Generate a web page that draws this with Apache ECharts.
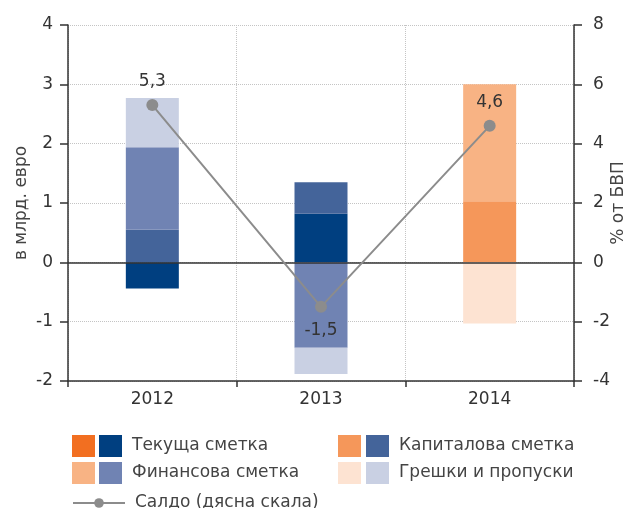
<!DOCTYPE html>
<html>
<head>
<meta charset="utf-8">
<script src="https://cdn.jsdelivr.net/npm/echarts@6/dist/echarts.min.js"></script>
<style>
  html, body { margin: 0; padding: 0; background: #fff; }
  #chart { width: 633px; height: 508px; }
</style>
</head>
<body>
<div id="chart"></div>
<script>
// данни
var years = ['2012', '2013', '2014'];
var currentAcc = [-0.44, 0.82, 0];
var capitalAcc = [0.55, 0.53, 1.03];
var financialAcc = [1.39, -1.44, 1.97];
var errorsAcc = [0.83, -0.44, -1.03];
var balance = [5.3, -1.5, 4.6];
var orangeYears = ['2014'];

var names = ['Текуща сметка', 'Капиталова сметка', 'Финансова сметка', 'Грешки и пропуски'];
var blueColors = ['#003f80', '#44649a', '#7083b3', '#c9d0e3'];
var orangeColors = ['#f26f21', '#f5975a', '#f8b384', '#fde3d2'];
var accounts = [currentAcc, capitalAcc, financialAcc, errorsAcc];
var lineName = 'Салдо (дясна скала)';

var font = '"DejaVu Sans", sans-serif';

function comma(v) {
    return String(v).replace('.', ',');
}

var series = [];
// сини стълбове (2012, 2013)
accounts.forEach(function (vals, k) {
    series.push({
        name: names[k],
        type: 'bar',
        stack: 'a',
        barWidth: 53,
        itemStyle: {color: blueColors[k]},
        data: vals.map(function (v, i) {
            return orangeYears.indexOf(years[i]) >= 0 ? null : v;
        })
    });
});
// оранжеви стълбове (2014)
accounts.forEach(function (vals, k) {
    series.push({
        name: names[k] + ' ',
        type: 'bar',
        stack: 'a',
        barWidth: 53,
        itemStyle: {color: orangeColors[k]},
        data: vals.map(function (v, i) {
            return orangeYears.indexOf(years[i]) >= 0 ? (v === 0 ? null : v) : null;
        })
    });
});
// нулева линия
series[0].markLine = {
    silent: true,
    symbol: ['none', 'none'],
    animation: false,
    label: {show: false},
    lineStyle: {color: '#333', type: 'solid', width: 1.5},
    data: [{yAxis: 0}]
};
// салдо
series.push({
    name: lineName,
    type: 'line',
    yAxisIndex: 1,
    z: 5,
    symbol: 'circle',
    symbolSize: 12,
    itemStyle: {color: '#8c8c8c'},
    lineStyle: {color: '#8c8c8c', width: 2},
    data: balance.map(function (v) {
        return {
            value: v,
            label: {position: v < 0 ? 'bottom' : 'top'}
        };
    }),
    label: {
        show: true,
        distance: 9,
        fontFamily: font,
        fontSize: 17,
        color: '#333',
        formatter: function (p) { return comma(p.value); }
    }
});

var legendText = {fontFamily: font, fontSize: 17, lineHeight: 22, color: '#444', padding: [0, 0, 0, 5]};

var option = {
    animation: false,
    grid: {left: 68, right: 59, top: 25, bottom: 127, outerBoundsMode: 'none', containLabel: false},
    legend: [
        {
            left: 99, top: 435, orient: 'vertical', itemGap: 5, padding: 0,
            itemWidth: 23, itemHeight: 22, icon: 'rect', selectedMode: false,
            textStyle: legendText,
            data: [names[0], names[2]]
        },
        {
            left: 366, top: 435, orient: 'vertical', itemGap: 5, padding: 0,
            itemWidth: 23, itemHeight: 22, icon: 'rect', selectedMode: false,
            textStyle: legendText,
            data: [names[1], names[3]]
        },
        {
            left: 72, top: 492, itemWidth: 52, itemHeight: 12, padding: 0,
            selectedMode: false,
            textStyle: legendText,
            data: [lineName]
        }
    ],
    graphic: [
        {type: 'rect', left: 72, top: 435, shape: {width: 23, height: 22}, style: {fill: orangeColors[0]}},
        {type: 'rect', left: 72, top: 462, shape: {width: 23, height: 22}, style: {fill: orangeColors[2]}},
        {type: 'rect', left: 338, top: 435, shape: {width: 23, height: 22}, style: {fill: orangeColors[1]}},
        {type: 'rect', left: 338, top: 462, shape: {width: 23, height: 22}, style: {fill: orangeColors[3]}}
    ],
    xAxis: {
        type: 'category',
        data: years,
        axisLine: {onZero: false, lineStyle: {color: '#333', width: 1.5}},
        axisTick: {show: true, length: 6, lineStyle: {color: '#333', width: 1.5}},
        axisLabel: {margin: 10, fontFamily: font, fontSize: 17, color: '#333'},
        splitLine: {show: true, lineStyle: {color: '#c4c4c4', type: 'dotted'}}
    },
    yAxis: [
        {
            type: 'value',
            min: -2, max: 4, interval: 1,
            name: 'в млрд. евро',
            nameLocation: 'middle',
            nameGap: 38,
            nameMoveOverlap: false,
            nameRotate: 90,
            nameTextStyle: {fontFamily: font, fontSize: 17, color: '#444'},
            axisLine: {show: true, lineStyle: {color: '#333', width: 1.5}},
            axisTick: {show: true, length: 8, lineStyle: {color: '#333', width: 1.5}},
            axisLabel: {margin: 15, fontFamily: font, fontSize: 17, color: '#333'},
            splitLine: {show: true, lineStyle: {color: '#c4c4c4', type: 'dotted'}}
        },
        {
            type: 'value',
            min: -4, max: 8, interval: 2,
            position: 'right',
            name: '% от БВП',
            nameLocation: 'middle',
            nameGap: 36,
            nameMoveOverlap: false,
            nameRotate: 90,
            nameTextStyle: {fontFamily: font, fontSize: 17, color: '#444'},
            axisLine: {show: true, lineStyle: {color: '#333', width: 1.5}},
            axisTick: {show: true, length: 8, lineStyle: {color: '#333', width: 1.5}},
            axisLabel: {margin: 19, fontFamily: font, fontSize: 17, color: '#333'},
            splitLine: {show: false}
        }
    ],
    series: series
};

var chart = echarts.init(document.getElementById('chart'));
chart.setOption(option);
</script>
</body>
</html>
